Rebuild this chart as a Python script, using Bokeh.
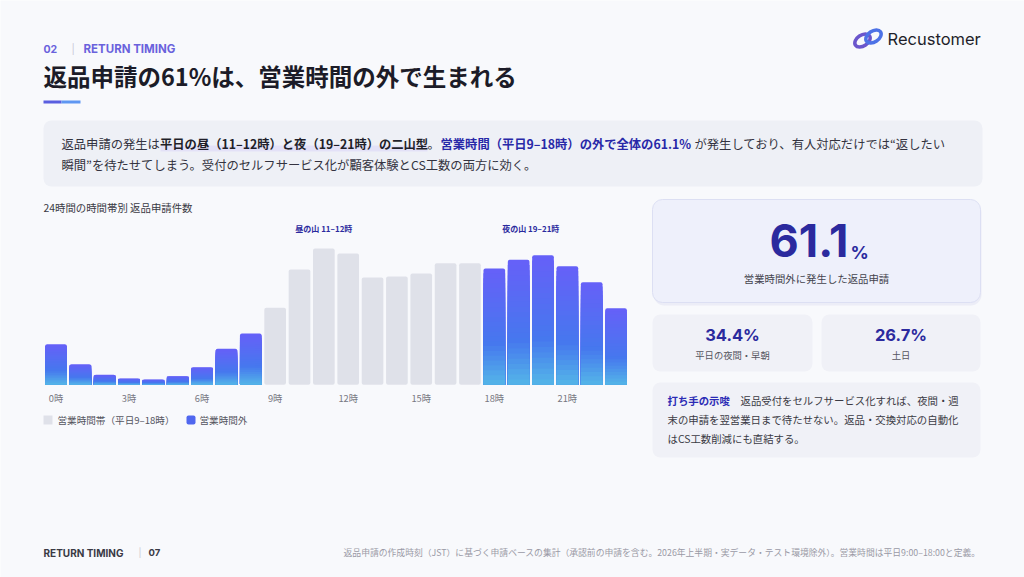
from bokeh.plotting import figure
from bokeh.models import Range1d
from bokeh.core.properties import value
from bokeh.embed import file_html
from bokeh.resources import INLINE

# ---------------- data ----------------
hours = list(range(24))
counts = [122, 62, 30, 19, 16, 26, 53, 108, 154, 231, 346, 409,
          394, 322, 325, 334, 365, 365, 349, 375, 389, 356, 308, 230]
business_hours = list(range(9, 18))
tick_hours = [0, 3, 6, 9, 12, 15, 18, 21]
tick_labels = ["0時", "3時", "6時", "9時", "12時", "15時", "18時", "21時"]
legend_labels = ["営業時間帯（平日9–18時）", "営業時間外"]
peak_labels = ["昼の山 11–12時", "夜の山 19–21時"]
peak_pos = [11, 19.5]
kpi_main = "61.1"
kpi_main_label = "営業時間外に発生した返品申請"
kpi_sub_values = ["34.4%", "26.7%"]
kpi_sub_labels = ["平日の夜間・早朝", "土日"]

# ---------------- styles ----------------
BG = "#f8f9fc"
JP = value("Noto Sans CJK JP")
LAT = value("Inter")
NAVY = "#2b2a9e"
PURPLE = "#6a62dc"

# bar chart placement on the page (pixels)
BAR0_CX = 55.5
PITCH = 24.35
BASE_Y = 384.3
PX_PER_COUNT = 1 / 3.0

p = figure(width=1024, height=577, x_range=Range1d(0, 1024), y_range=Range1d(577, 0),
           x_axis_type=None, y_axis_type=None, toolbar_location=None,
           output_backend="svg", min_border=0, background_fill_color=BG,
           border_fill_color=BG, outline_line_color=None)
p.extra_x_ranges = {"bars": Range1d(start=(0 - BAR0_CX) / PITCH, end=(1024 - BAR0_CX) / PITCH)}
p.extra_y_ranges = {"bars": Range1d(start=-(577 - BASE_Y) / PX_PER_COUNT, end=BASE_Y / PX_PER_COUNT)}


def txt(x, y, s, size, color, bold=False, align="left", font=JP, baseline="middle",
        xr="default", yr="default"):
    xs = x if isinstance(x, list) else [x]
    ys = y if isinstance(y, list) else [y] * len(xs)
    ss = s if isinstance(s, list) else [s]
    p.text(x=xs, y=ys, text=ss, text_font=font, text_font_size=f"{size}px",
           text_color=color, text_font_style="bold" if bold else "normal",
           text_align=align, text_baseline=baseline, x_range_name=xr, y_range_name=yr)


# ---------------- header ----------------
txt(43, 48, "02", 10.5, PURPLE, bold=True, font=LAT)
txt(71, 48, "|", 10, "#c8c8d8", font=LAT)
txt(83, 48, "RETURN TIMING", 11.5, PURPLE, bold=True, font=LAT)
txt(43, 75, "返品申請の61%は、営業時間の外で生まれる", 23.5, "#1c1c28", bold=True)
p.quad(left=[43], right=[61], top=[100], bottom=[103], fill_color="#5a5fe0", line_color=None)
p.quad(left=[61], right=[80], top=[100], bottom=[103], fill_color="#5f97f2", line_color=None)

# logo
p.ellipse(x=[862], y=[40], width=17, height=11, angle=0.6, width_units="screen",
          height_units="screen", fill_color=None, line_color="#6b56cc", line_width=3.5)
p.ellipse(x=[873], y=[36], width=17, height=11, angle=0.6, width_units="screen",
          height_units="screen", fill_color=None, line_color="#4d72e6", line_width=3.5)
txt(887, 38, "Recustomer", 16.5, "#1f1f2a", font=LAT)

# ---------------- summary box ----------------
p.quad(left=[43], right=[982], top=[120], bottom=[186], fill_color="#eef0f6",
       line_color=None, border_radius=8)
p.quad(left=[160], right=[427], top=[145], bottom=[151], fill_color="#e3e1f7", line_color=None)
L1 = 143
txt(61, L1, "返品申請の発生は", 12.3, "#333340")
txt(159.5, L1, "平日の昼（11–12時）と夜（19–21時）の二山型", 12.3, "#1f1f2a", bold=True)
txt(427, L1, "。", 12.3, "#333340")
txt(440, L1, "営業時間（平日9–18時）の外で全体の61.1%", 12.3, "#2828a8", bold=True)
txt(694, L1, "が発生しており、有人対応だけでは“返したい", 12.3, "#333340")
txt(61, 164, "瞬間”を待たせてしまう。受付のセルフサービス化が顧客体験とCS工数の両方に効く。", 12.3, "#333340")

# ---------------- bar chart ----------------
txt(43, 207, "24時間の時間帯別 返品申請件数", 10.4, "#3a3a44")

gx = [h for h in hours if h in business_hours]
gv = [counts[h] for h in gx]
bx = [h for h in hours if h not in business_hours]
bv = [counts[h] for h in bx]
BW = 0.89

p.vbar(x=gx, top=gv, bottom=0, width=BW, fill_color="#dfe1e9", line_color=None,
       border_radius=2, x_range_name="bars", y_range_name="bars")

stops = [(0.0, (84, 182, 232)), (0.35, (70, 120, 238)), (1.0, (102, 96, 248))]


def grad(f):
    for (f0, c0), (f1, c1) in zip(stops[:-1], stops[1:]):
        if f0 <= f <= f1:
            t = (f - f0) / (f1 - f0)
            return "#%02x%02x%02x" % tuple(int(round(a + (b - a) * t)) for a, b in zip(c0, c1))
    return "#%02x%02x%02x" % stops[-1][1]


N = 24
for j in range(N):
    frac = (N - j) / N
    col = grad((N - j - 0.5) / N)
    kw = dict(border_radius=2) if j == 0 else {}
    p.vbar(x=bx, top=[v * frac for v in bv], bottom=0, width=BW, fill_color=col,
           line_color=None, x_range_name="bars", y_range_name="bars", **kw)

txt(peak_pos, 228, peak_labels, 8, NAVY, bold=True, align="center", xr="bars")
txt(tick_hours, 397, tick_labels, 9.3, "#777782", align="center", xr="bars")

# legend
p.quad(left=[43], right=[52], top=[415], bottom=[424], fill_color="#dfe1e9", line_color=None)
txt(57, 419.5, legend_labels[0], 9.6, "#55555f")
p.quad(left=[186], right=[195], top=[415], bottom=[424], fill_color="#5067ef",
       line_color=None, border_radius=2)
txt(199, 419.5, legend_labels[1], 9.6, "#55555f")

# ---------------- KPI cards ----------------
p.quad(left=[653], right=[981], top=[201], bottom=[305], fill_color="#dfe2f2",
       fill_alpha=0.5, line_color=None, border_radius=11)
p.quad(left=[652], right=[980], top=[199], bottom=[302], fill_color="#eef0fb",
       line_color="#dcdff3", line_width=1, border_radius=10)
txt(848, 240, kpi_main, 45, NAVY, bold=True, align="right", font=LAT)
txt(850, 251.5, "%", 18, NAVY, bold=True, font=LAT)
txt(816, 278, kpi_main_label, 10.4, "#44444e", align="center")

for i, (l, r) in enumerate([(652, 812), (821, 980)]):
    p.quad(left=[l], right=[r], top=[314], bottom=[371], fill_color="#f0f1f7",
           line_color=None, border_radius=8)
    cx = (l + r) / 2
    txt(cx, 334, kpi_sub_values[i], 16.5, NAVY, bold=True, align="center", font=LAT)
    txt(cx, 354, kpi_sub_labels[i], 9.3, "#55555f", align="center")

p.quad(left=[652], right=[980], top=[382], bottom=[457], fill_color="#f0f1f7",
       line_color=None, border_radius=8)
txt(667, 400, "打ち手の示唆", 10.4, "#2b2bb5", bold=True)
txt(740, 400, "返品受付をセルフサービス化すれば、夜間・週", 10.4, "#3a3a44")
txt(667, 419, "末の申請を翌営業日まで待たせない。返品・交換対応の自動化", 10.4, "#3a3a44")
txt(667, 437.5, "はCS工数削減にも直結する。", 10.4, "#3a3a44")

# ---------------- footer ----------------
txt(43, 552, "RETURN TIMING", 10, "#3a3a44", bold=True, font=LAT)
txt(138, 552, "|", 9, "#c8c8d0", font=LAT)
txt(148, 552, "07", 9.5, "#3a3a44", bold=True, font=LAT)
txt(980, 552, "返品申請の作成時刻（JST）に基づく申請ベースの集計（承認前の申請を含む。2026年上半期・実データ・テスト環境除外）。営業時間は平日9:00–18:00と定義。",
    8.8, "#9a9aa6", align="right")

open("out.html", "w").write(file_html(p, INLINE))
